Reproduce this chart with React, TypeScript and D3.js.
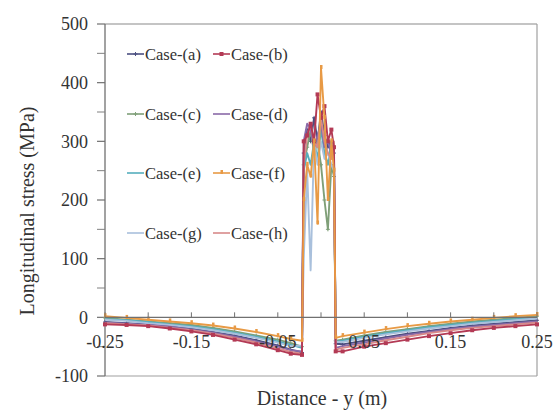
import React from "react";
import * as d3 from "d3";

const xs = [-0.25, -0.225, -0.2, -0.175, -0.15, -0.125, -0.1, -0.075, -0.05, -0.035,
  -0.022, -0.02, -0.016, -0.012, -0.008, -0.004, 0, 0.004, 0.008, 0.012, 0.015, 0.017,
  0.025, 0.05, 0.075, 0.1, 0.125, 0.15, 0.175, 0.2, 0.225, 0.25];

const caseA = [-8, -10, -12, -15, -19, -25, -31, -39, -48, -55,
  -60, 280, 320, 300, 340, 300, 350, 310, 290, 300, 280, -45,
  -46, -40, -34, -28, -23, -18, -14, -11, -8, -5];
const caseB = [-12, -13, -15, -19, -24, -30, -38, -46, -56, -62,
  -64, 300, 310, 330, 300, 380, 340, 360, 300, 320, 290, -58,
  -58, -50, -44, -38, -32, -27, -22, -18, -15, -12];
const caseC = [-1, -4, -7, -10, -13, -18, -24, -31, -38, -44,
  -50, 260, 290, 320, 280, 300, 260, 200, 150, 260, 240, -40,
  -38, -31, -25, -20, -15, -11, -7, -4, -1, 2];
const caseD = [-9, -11, -13, -16, -21, -26, -33, -41, -50, -56,
  -58, 300, 330, 320, 290, 310, 330, 290, 300, 280, 290, -52,
  -49, -43, -36, -30, -25, -20, -16, -13, -10, -7];
const caseE = [-3, -5, -8, -12, -15, -20, -26, -33, -41, -47,
  -52, 250, 280, 260, 300, 270, 320, 280, 260, 300, 270, -42,
  -40, -33, -27, -22, -17, -13, -9, -6, -3, 0];
const caseF = [2, -1, -4, -7, -10, -14, -19, -25, -32, -37,
  -40, 200, 260, 240, 300, 160, 425, 340, 200, 300, 250, -35,
  -32, -26, -20, -15, -11, -7, -4, -1, 2, 4];
const caseG = [-4, -6, -10, -13, -17, -22, -28, -35, -43, -49,
  -48, 100, 250, 80, 300, 260, 300, 270, 280, 260, 250, -42,
  -42, -35, -29, -24, -19, -15, -11, -8, -5, -2];
const caseH = [-10, -12, -14, -18, -22, -28, -35, -43, -53, -59,
  -62, 260, 310, 330, 300, 290, 340, 300, 280, 270, 300, -55,
  -52, -46, -39, -33, -27, -22, -18, -15, -12, -9];

const seriesNames = ["Case-(a)", "Case-(b)", "Case-(c)", "Case-(d)", "Case-(e)", "Case-(f)", "Case-(g)", "Case-(h)"];
const seriesValues = [caseA, caseB, caseC, caseD, caseE, caseF, caseG, caseH];
const seriesColors = ["#4b4f80", "#b33a55", "#7f9f78", "#8a6aa8", "#55aebd", "#e89a45", "#a9c0dc", "#d88a8a"];
const drawOrder = [0, 2, 4, 6, 3, 7, 1, 5];

const yTicks = [-100, 0, 100, 200, 300, 400, 500];
const yMinor = [-50, 50, 150, 250, 350, 450];
const xTickLabels = [-0.25, -0.15, -0.05, 0.05, 0.15, 0.25];
const xTickMarks = [-0.25, -0.2, -0.15, -0.1, -0.05, 0, 0.05, 0.1, 0.15, 0.2, 0.25];

export default function App() {
  const W = 553, H = 412;
  const L = 105, R = 537, T = 24, B = 376;
  const x = d3.scaleLinear().domain([-0.25, 0.25]).range([L, R]);
  const y = d3.scaleLinear().domain([-100, 500]).range([B, T]);
  const font = "'Liberation Serif', 'Times New Roman', serif";
  const line = d3.line<number>().x((_, i) => x(xs[i])).y((v) => y(v));

  const legendRows = [54, 114, 173, 233];
  const legendCols = [127, 213];

  const marker = (i: number, cx: number, cy: number, key: string) => {
    const c = seriesColors[i];
    if (i === 1) return <rect key={key} x={cx - 2} y={cy - 2} width={4} height={4} fill={c} />;
    if (i === 5) return <rect key={key} x={cx - 1} y={cy - 3} width={2.5} height={4} fill={c} />;
    if (i === 0 || i === 2) return <path key={key} d={`M${cx - 2},${cy}H${cx + 2}M${cx},${cy - 2}V${cy + 2}`} stroke={c} strokeWidth={1} />;
    return null;
  };

  return (
    <svg width={W} height={H} style={{ position: "absolute", left: 0, top: 0, background: "#fff" }}>
      <rect x={0} y={0} width={W} height={H} fill="#fff" />
      <line x1={L} x2={R} y1={T} y2={T} stroke="#8a8a8a" strokeWidth={1.2} />
      <line x1={R} x2={R} y1={T} y2={B} stroke="#a0a0a0" strokeWidth={1.2} />
      <line x1={L} x2={R} y1={B} y2={B} stroke="#a0a0a0" strokeWidth={1.2} />
      <line x1={L} x2={L} y1={T} y2={B} stroke="#707070" strokeWidth={1.3} />
      {yTicks.map((t) => (
        <g key={"yt" + t}>
          <line x1={L - 8} x2={L} y1={y(t)} y2={y(t)} stroke="#707070" strokeWidth={1.2} />
          <text x={88} y={y(t)} dy="0.35em" textAnchor="end" fontFamily={font} fontSize={18} fill="#333">{t}</text>
        </g>
      ))}
      {yMinor.map((t) => (
        <line key={"ym" + t} x1={L - 8} x2={L} y1={y(t)} y2={y(t)} stroke="#808080" strokeWidth={1} />
      ))}
      {drawOrder.map((i) => (
        <g key={"s" + i}>
          <path d={line(seriesValues[i]) || ""} fill="none" stroke={seriesColors[i]} strokeWidth={1.9} strokeLinejoin="round" />
          {seriesValues[i].map((v, j) => marker(i, x(xs[j]), y(v), `m${i}-${j}`))}
        </g>
      ))}
      <line x1={L} x2={R} y1={y(0)} y2={y(0)} stroke="#707070" strokeWidth={1.3} />
      {xTickMarks.map((t) => (
        <line key={"xt" + t} x1={x(t)} x2={x(t)} y1={y(0)} y2={y(0) - 5} stroke="#707070" strokeWidth={1} />
      ))}
      {xTickLabels.map((t) => (
        <text key={"xl" + t} x={x(t)} y={348} textAnchor="middle" fontFamily={font} fontSize={18} fill="#333">{t.toFixed(2)}</text>
      ))}
      {seriesNames.map((n, i) => {
        const cx = legendCols[i % 2];
        const cy = legendRows[Math.floor(i / 2)];
        return (
          <g key={"lg" + i}>
            <line x1={cx} x2={cx + 17} y1={cy} y2={cy} stroke={seriesColors[i]} strokeWidth={1.6} />
            {marker(i, cx + 8.5, cy, "lm" + i)}
            <text x={cx + 18} y={cy} dy="0.35em" fontFamily={font} fontSize={16.5} fill="#333">{n}</text>
          </g>
        );
      })}
      <text x={322} y={398} dy="0.35em" textAnchor="middle" fontFamily={font} fontSize={20} fill="#333">Distance - y (m)</text>
      <text transform={`translate(27,211) rotate(-90)`} dy="0.35em" textAnchor="middle" fontFamily={font} fontSize={20} fill="#333">Longitudinal stress (MPa)</text>
    </svg>
  );
}
